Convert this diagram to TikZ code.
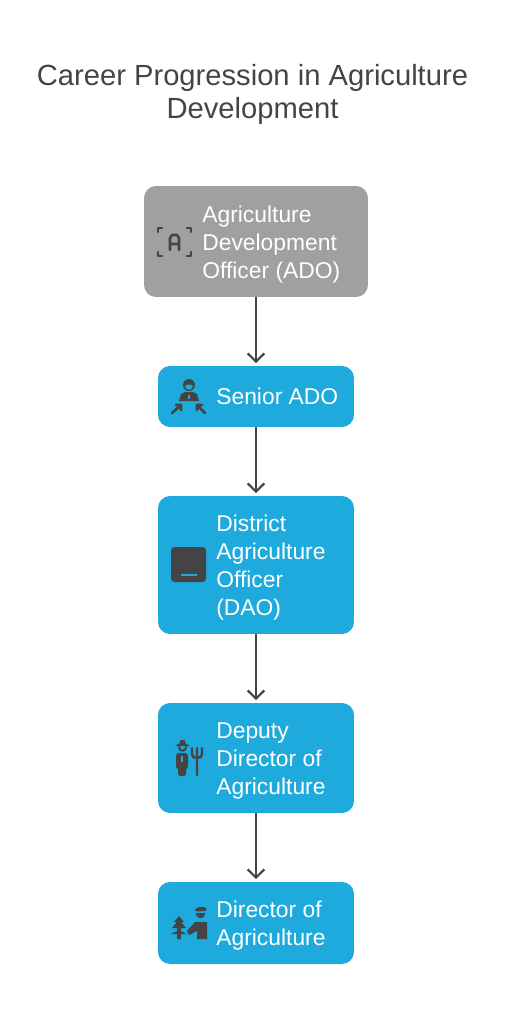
\documentclass[tikz,border=0pt]{standalone}
\usepackage{fontspec}
\setmainfont{Liberation Sans}
\usetikzlibrary{positioning, arrows.meta, calc}
\definecolor{adogray}{HTML}{A0A0A0}
\definecolor{agriblau}{HTML}{1EAADC}
\definecolor{icongray}{HTML}{444444}
\tikzset{
    stufe/.style={rounded corners=0.24cm, minimum width=3.92cm, inner sep=0pt, fill=agriblau},
    stufetext/.style={anchor=west, align=left, inner sep=0pt, text=white, font=\fontsize{13pt}{15.9pt}\selectfont},
    pfeil/.style={draw=icongray, line width=1.25pt, shorten >=1.5pt, -{Straight Barb[length=4.6pt, width=9.5pt, line width=1.25pt]}},
    iconline/.style={draw=icongray, line width=1.5pt, line cap=round, line join=round},
    iconfill/.style={fill=icongray, draw=none}
}

\begin{document}
\begin{tikzpicture}[x=0.02cm, y=-0.02cm]
    \useasboundingbox (0,0) rectangle (512,1024);
    % koordinaten in pixeln des bildes

    % --- TITEL ---
    \node[text=icongray, align=center, inner sep=0pt, font=\fontsize{16.6pt}{19.3pt}\selectfont] (titel) at (252.5,94.5)
        {Career Progression in Agriculture\\Development};

    % --- STUFEN ---
    \node[stufe, fill=adogray, minimum width=4.48cm, minimum height=2.22cm] (ado) at (256,241.5) {};
    \node[stufe, minimum height=1.22cm] (senior) at (256,396.5) {};
    \node[stufe, minimum height=2.76cm] (dao) at (256,565) {};
    \node[stufe, minimum height=2.2cm] (deputy) at (256,758) {};
    \node[stufe, minimum height=1.64cm] (direktor) at (256,923) {};

    \node[stufetext] (adotext) at (202,244.5) {Agriculture\\Development\\Officer (ADO)};
    \node[stufetext] (seniortext) at (216,396.5) {Senior ADO};
    \node[stufetext] (daotext) at (216,567.5) {District\\Agriculture\\Officer\\(DAO)};
    \node[stufetext] (deputytext) at (216,761) {Deputy\\Director of\\Agriculture};
    \node[stufetext] (direktortext) at (216,925.5) {Director of\\Agriculture};

    % --- PFEILE ---
    \draw[pfeil] (ado) -- (senior);
    \draw[pfeil] (senior) -- (dao);
    \draw[pfeil] (dao) -- (deputy);
    \draw[pfeil] (deputy) -- (direktor);

    % --- ICON ADO ---
    \draw[iconline] (158,232) -- (158,228) -- (162,228);
    \draw[iconline] (187,228) -- (191,228) -- (191,232);
    \draw[iconline] (158,252) -- (158,256) -- (162,256);
    \draw[iconline] (187,256) -- (191,256) -- (191,252);
    \draw[iconline] (170,250) -- (170,238) -- (172,235) -- (177,235) -- (179,238) -- (179,250) (170,244) -- (179,244);

    % --- ICON SENIOR ---
    \fill[icongray] (189,385) circle (6);
    \fill[agriblau] (185,386) .. controls (187,384) and (191,384) .. (193,386) .. controls (192,391) and (186,391) .. (185,386) -- cycle;
    \fill[icongray] (179,401) -- (181,394) -- (185,392) -- (193,392) -- (197,394) -- (199,401) -- cycle;
    \fill[agriblau] (188,395) rectangle (190,399);
    \draw[iconline] (172,413) -- (181,405) (176,405) -- (181,405) -- (181,410);
    \draw[iconline] (205,413) -- (197,405) (202,405) -- (197,405) -- (197,410);

    % --- ICON DAO ---
    \fill[icongray, rounded corners=2pt] (171,547) rectangle (206,582);
    \fill[agriblau] (181,574) rectangle (197,576);

    % --- ICON DEPUTY ---
    \fill[iconfill] (180,743) -- (180,740) -- (185,740) -- (185,743) -- (190,746) -- (175,746) -- cycle;
    \draw[iconline, line width=1.2pt] (179,747) .. controls (179,752) and (186,752) .. (186,747);
    \fill[icongray, rounded corners=1.5pt] (176,753) rectangle (188,769);
    \fill[icongray, rounded corners=1pt] (178,766) rectangle (186,776);
    \fill[agriblau] (181,756) rectangle (183,762);
    \draw[iconline, line width=1.4pt] (192,748) -- (192,754) .. controls (192,757) and (194,758) .. (197,758) .. controls (200,758) and (202,757) .. (202,754) -- (202,748) (197,748) -- (197,775);

    % --- ICON DIREKTOR ---
    \fill[iconfill] (179,916) -- (184,922) -- (181,922) -- (186,928) -- (181,928) -- (181,931) -- (187,934) -- (181,934) -- (181,939) -- (177,939) -- (177,934) -- (171,934) -- (177,931) -- (177,928) -- (172,928) -- (177,922) -- (174,922) -- cycle;
    \fill[iconfill, rounded corners=1pt] (195,909) -- (198,907) -- (206,907) -- (207,911) -- (195,911.5) -- cycle;
    \fill[icongray] (196,913) .. controls (196,920) and (205,920) .. (205,913) -- cycle;
    \fill[icongray] (195,922) -- (207,922) -- (207,939) -- (197,939) -- (197,931) -- (189,935) -- (187,931) -- cycle;
\end{tikzpicture}
\end{document}
